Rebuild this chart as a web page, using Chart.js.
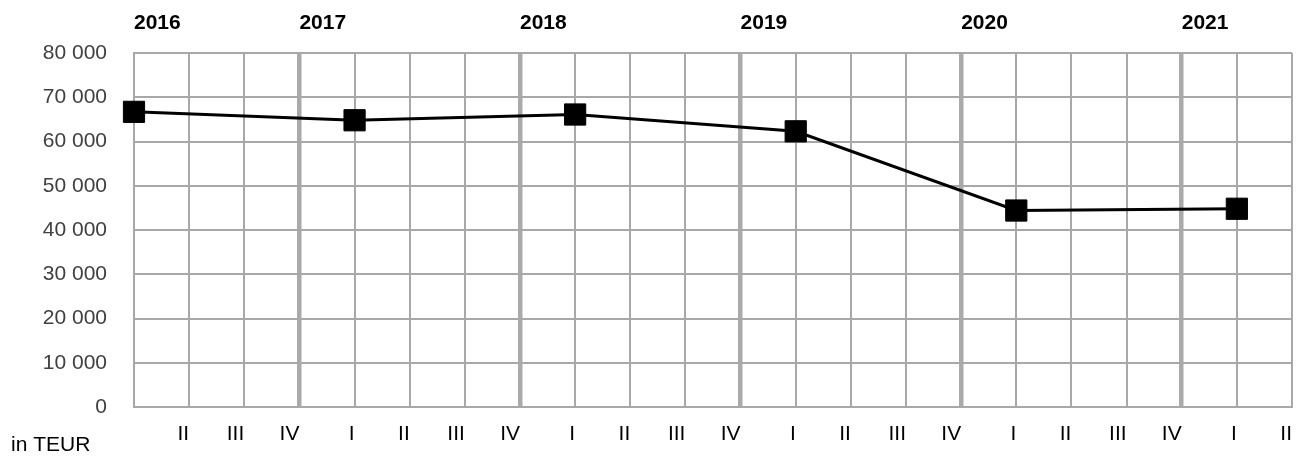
<!DOCTYPE html>
<html>
<head>
<meta charset="utf-8">
<script src="https://cdn.jsdelivr.net/npm/chart.js@4/dist/chart.umd.min.js"></script>
<style>
  html, body { margin: 0; padding: 0; background: #ffffff; }
  #wrap { position: relative; width: 1308px; height: 456px; }
</style>
</head>
<body>
<div id="wrap"><canvas id="c" width="1308" height="456"></canvas></div>
<script>
// Quarters from 2016 Q1 to 2021 Q2
const categories = ['2016 I','2016 II','2016 III','2016 IV','2017 I','2017 II','2017 III','2017 IV',
  '2018 I','2018 II','2018 III','2018 IV','2019 I','2019 II','2019 III','2019 IV',
  '2020 I','2020 II','2020 III','2020 IV','2021 I','2021 II'];
const quarterLabels = ['', 'II','III','IV','I','II','III','IV','I','II','III','IV','I','II','III','IV','I','II','III','IV','I','II'];
const yearLabels = ['2016','','','2017','','','','2018','','','','2019','','','','2020','','','','2021','',''];
const values = [66700, null, null, null, 64800, null, null, null, 66100, null, null, null,
  62300, null, null, null, 44400, null, null, null, 44800, null];
const yTicks = [0, 10000, 20000, 30000, 40000, 50000, 60000, 70000, 80000];
const unitLabel = 'in TEUR';
const yearBoundaryIdx = [3, 7, 11, 15, 19];

const FONT = "'Liberation Sans', Arial, sans-serif";
const fmt = v => String(v).replace(/\B(?=(\d{3})+(?!\d))/g, ' ');

const unitPlugin = {
  id: 'unitLabel',
  afterDraw(chart) {
    const ctx = chart.ctx;
    ctx.save();
    ctx.font = '21px ' + FONT;
    ctx.fillStyle = '#000000';
    ctx.textAlign = 'left';
    ctx.textBaseline = 'alphabetic';
    ctx.fillText(unitLabel, 11, 451);
    ctx.restore();
  }
};

new Chart(document.getElementById('c'), {
  type: 'line',
  data: {
    labels: categories,
    datasets: [{
      data: values,
      spanGaps: true,
      borderColor: '#000000',
      borderWidth: 3,
      backgroundColor: '#000000',
      pointStyle: 'rect',
      pointRadius: 15,
      pointBorderWidth: 1,
      pointBorderColor: '#000000',
      pointBackgroundColor: '#000000',
      tension: 0,
      clip: false,
      xAxisID: 'x',
      yAxisID: 'y'
    }]
  },
  options: {
    responsive: false,
    animation: false,
    layout: { padding: { left: 0, right: 16, top: 0, bottom: 0 } },
    plugins: { legend: { display: false }, tooltip: { enabled: false } },
    scales: {
      x: {
        type: 'category',
        position: 'bottom',
        offset: false,
        afterFit(s) { s.height = 49; s.paddingLeft = 0; s.paddingRight = 0; },
        grid: {
          drawTicks: false,
          color: ctx => yearBoundaryIdx.includes(ctx.index) ? '#aaaaaa' : '#a8a8a8',
          lineWidth: ctx => yearBoundaryIdx.includes(ctx.index) ? 4.5 : 2
        },
        border: { display: true, color: '#a8a8a8', width: 2 },
        ticks: {
          autoSkip: false,
          maxRotation: 0,
          minRotation: 0,
          align: 'end',
          padding: 15,
          color: '#000000',
          font: { family: FONT, size: 21 },
          callback: (v, i) => quarterLabels[i]
        }
      },
      x2: {
        type: 'category',
        position: 'top',
        offset: false,
        afterFit(s) { s.height = 53; s.paddingLeft = 0; s.paddingRight = 0; },
        grid: { display: false, drawTicks: false },
        border: { display: false },
        ticks: {
          autoSkip: false,
          maxRotation: 0,
          minRotation: 0,
          align: 'start',
          padding: 17,
          color: '#000000',
          font: { family: FONT, size: 21, weight: 'bold' },
          callback: (v, i) => yearLabels[i]
        }
      },
      y: {
        min: 0,
        max: 80000,
        afterFit(s) { s.width = 134; },
        afterBuildTicks(s) { s.ticks = yTicks.map(v => ({ value: v })); },
        grid: { drawTicks: false, color: '#a8a8a8', lineWidth: 2 },
        border: { display: true, color: '#a8a8a8', width: 2 },
        ticks: {
          padding: 27,
          color: '#404040',
          font: { family: FONT, size: 21 },
          callback: v => fmt(v)
        }
      }
    }
  },
  plugins: [unitPlugin]
});
</script>
</body>
</html>
